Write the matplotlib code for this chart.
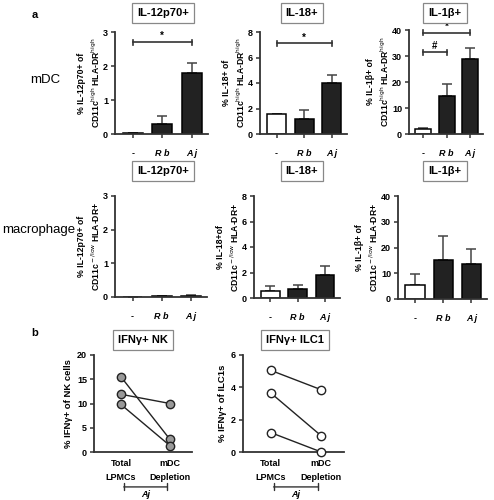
import numpy as np
import matplotlib
matplotlib.use("Agg")
import matplotlib.pyplot as plt

plt.rcParams['font.family'] = ['Liberation Sans', 'DejaVu Sans']

W, H = 494, 500

groups = ["-", "Rb", "Aj"]

# mDC row
mdc_il12 = [0.03, 0.30, 1.80]
mdc_il12_err = [0.0, 0.22, 0.30]
mdc_il18 = [1.55, 1.20, 4.00]
mdc_il18_err = [0.0, 0.70, 0.65]
mdc_il1b = [1.8, 14.5, 29.0]
mdc_il1b_err = [0.7, 4.8, 4.0]

# macrophage row
mac_il12 = [0.0, 0.02, 0.04]
mac_il12_err = [0.0, 0.0, 0.02]
mac_il18 = [0.55, 0.70, 1.80]
mac_il18_err = [0.40, 0.30, 0.70]
mac_il1b = [5.5, 15.0, 13.5]
mac_il1b_err = [4.3, 9.5, 6.0]

# panel b (paired)
conditions = ["Total\nLPMCs", "mDC\nDepletion"]
nk_total = [15.5, 11.9, 9.8]
nk_depl = [2.6, 10.0, 1.3]
ilc_total = [5.05, 3.65, 1.2]
ilc_depl = [3.85, 1.0, 0.0]

DARK = "#222222"
SPINE = "#333333"


def rect(x0, y0, x1, y1):
    return [x0 / W, 1 - y1 / H, (x1 - x0) / W, (y1 - y0) / H]


def style(ax, ymax, step):
    for s in ["top", "right"]:
        ax.spines[s].set_visible(False)
    for s in ["left", "bottom"]:
        ax.spines[s].set_linewidth(1.3)
        ax.spines[s].set_color(SPINE)
    ax.set_ylim(0, ymax)
    ax.set_yticks(np.arange(0, ymax + step / 2, step))
    ax.tick_params(axis="both", length=3, width=1.1, color=SPINE,
                   labelsize=6.5, pad=2)
    for lab in ax.get_yticklabels():
        lab.set_fontweight("bold")


def title_box(fig, x, y, text):
    fig.text(x / W, 1 - y / H, text, ha="center", va="center",
             fontsize=8, fontweight="bold",
             bbox=dict(boxstyle="square,pad=0.45", fc="white", ec="#888888", lw=0.9))


def bar_panel(fig, r, vals, errs, ymax, step, ylabel, title, tpos):
    ax = fig.add_axes(rect(*r))
    x = np.arange(len(groups))
    colors = ["white", DARK, DARK]
    ax.bar(x, vals, width=0.68, color=colors, edgecolor="black", linewidth=1.1, zorder=2)
    ax.errorbar(x, vals, yerr=[np.zeros(len(errs)), errs], fmt="none",
                ecolor="#444444", elinewidth=1.1, capsize=3.5, capthick=1.1, zorder=1)
    ax.set_xlim(-0.6, 2.55)
    style(ax, ymax, step)
    ax.set_xticks(x)
    ax.set_xticklabels(["-", "R b", "A j"], fontsize=6.5, fontweight="bold")
    for lab in ax.get_xticklabels()[1:]:
        lab.set_fontstyle("italic")
    ax.tick_params(axis="x", pad=8)
    ax.set_ylabel(ylabel, fontsize=6.2, fontweight="bold", labelpad=1, linespacing=1.3)
    title_box(fig, tpos[0], tpos[1], title)
    return ax


def sig(ax, x0, x1, y, text, ymax):
    h = ymax * 0.025
    ax.plot([x0, x1], [y, y], color="#333333", lw=1.2, clip_on=False)
    ax.plot([x0, x0], [y - h, y + h], color="#333333", lw=1.2, clip_on=False)
    ax.plot([x1, x1], [y - h, y + h], color="#333333", lw=1.2, clip_on=False)
    ax.text((x0 + x1) / 2, y + h * 0.4, text, ha="center", va="bottom",
            fontsize=7, fontweight="bold", zorder=5, clip_on=False)


fig = plt.figure(figsize=(W / 100, H / 100), dpi=100)

# row labels
fig.text(35 / W, 1 - 15 / H, "a", fontsize=8, fontweight="bold", ha="center", va="center")
fig.text(45 / W, 1 - 80 / H, "mDC", fontsize=9.5, ha="center", va="center")
fig.text(39 / W, 1 - 230 / H, "macrophage", fontsize=9.5, ha="center", va="center")
fig.text(35 / W, 1 - 333 / H, "b", fontsize=8, fontweight="bold", ha="center", va="center")

a1 = bar_panel(fig, (115, 32, 208, 134), mdc_il12, mdc_il12_err, 3, 1,
               "% IL-12p70+ of\nCD11c$^{\\rm high}$ HLA-DR$^{\\rm high}$", "IL-12p70+", (163, 13))
sig(a1, 0, 2, 2.7, "*", 3)

a2 = bar_panel(fig, (260, 32, 347, 134), mdc_il18, mdc_il18_err, 8, 2,
               "% IL-18+ of\nCD11c$^{\\rm high}$ HLA-DR$^{\\rm high}$", "IL-18+", (302, 13))
sig(a2, 0, 2, 7.1, "*", 8)

a3 = bar_panel(fig, (409, 30, 483, 134), mdc_il1b, mdc_il1b_err, 40, 10,
               "% IL-1\u03b2+ of\nCD11c$^{\\rm high}$ HLA-DR$^{\\rm high}$", "IL-1\u03b2+", (445, 13))
sig(a3, 0, 2, 39, "*", 40)
sig(a3, 0, 1, 31.5, "#", 40)

bar_panel(fig, (115, 196, 207, 297), mac_il12, mac_il12_err, 3, 1,
          "% IL-12p70+ of\nCD11c$^{\\rm -/low}$ HLA-DR+", "IL-12p70+", (163, 171))
bar_panel(fig, (254, 196, 340, 298), mac_il18, mac_il18_err, 8, 2,
          "% IL-18+of\nCD11c$^{\\rm -/low}$ HLA-DR+", "IL-18+", (302, 171))
bar_panel(fig, (398, 196, 487, 299), mac_il1b, mac_il1b_err, 40, 10,
          "% IL-1\u03b2+ of\nCD11c$^{\\rm -/low}$ HLA-DR+", "IL-1\u03b2+", (445, 171))


def paired_panel(r, before, after, ymax, step, ylabel, title, tpos, fc):
    ax = fig.add_axes(rect(*r))
    for b, a in zip(before, after):
        ax.plot([0, 1], [b, a], color="#222222", lw=1.0, zorder=1)
    ax.scatter(np.zeros(len(before)), before, s=36, c=fc, edgecolors="#222222",
               linewidths=1.0, zorder=3, clip_on=False)
    ax.scatter(np.ones(len(after)), after, s=36, c=fc, edgecolors="#222222",
               linewidths=1.0, zorder=3, clip_on=False)
    ax.set_xlim(-0.55, 1.45)
    style(ax, ymax, step)
    ax.set_xticks([0, 1])
    ax.set_xticklabels(conditions, fontsize=6.5, fontweight="bold", linespacing=1.7)
    ax.tick_params(axis="x", length=0, pad=5)
    ax.set_ylabel(ylabel, fontsize=6.8, fontweight="bold", labelpad=3)
    title_box(fig, tpos[0], tpos[1], title)
    # Aj bracket below the group labels
    ax.annotate("", xy=(0, -0.36), xytext=(1, -0.36), xycoords=("data", "axes fraction"),
                arrowprops=dict(arrowstyle="|-|,widthA=0.25,widthB=0.25", color="#333333", lw=1.0))
    ax.text(0.5, -0.44, "Aj", transform=ax.get_xaxis_transform(), ha="center", va="center",
            fontsize=6.5, fontweight="bold", style="italic")
    return ax


paired_panel((94, 355, 192, 452), nk_total, nk_depl, 20, 5,
             "% IFN\u03b3+ of NK cells", "IFN\u03b3+ NK", (143, 340), "#999999")
paired_panel((243, 355, 344, 452), ilc_total, ilc_depl, 6, 2,
             "% IFN\u03b3+ of ILC1s", "IFN\u03b3+ ILC1", (295, 340), "white")

fig.savefig("out.png", dpi=100)
